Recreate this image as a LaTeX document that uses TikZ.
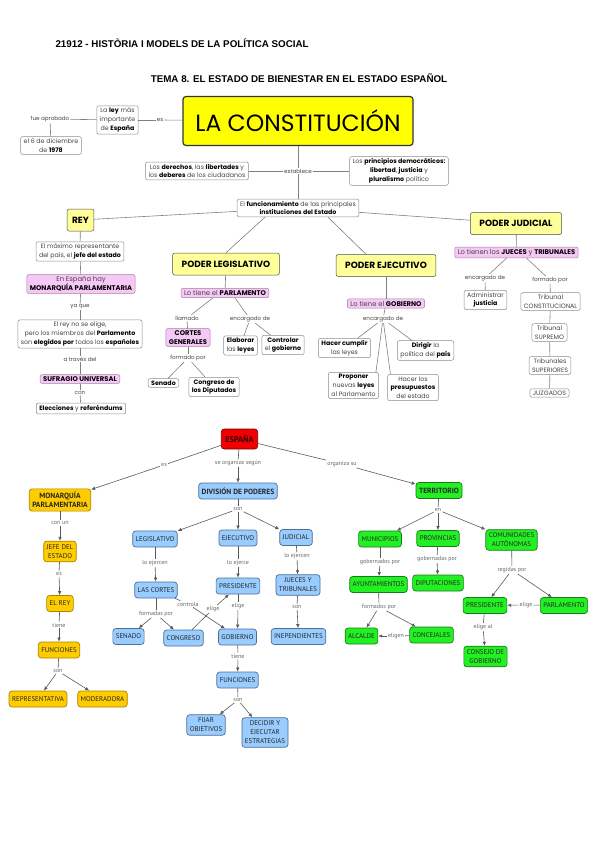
\documentclass[tikz,border=0pt]{standalone}
\usepackage{fontspec}
\setmainfont{Poppins}
\newfontfamily\mapfont{PT Sans}
\newfontfamily\headfont{Liberation Sans}
\usetikzlibrary{arrows.meta}
\definecolor{amarillo}{HTML}{FFFF00}
\definecolor{amarillot}{HTML}{FFFF99}
\definecolor{rosa}{HTML}{F6C8F6}
\definecolor{rosab}{HTML}{A57FA5}
\definecolor{naranja}{HTML}{FFCC00}
\definecolor{naranjab}{HTML}{A88200}
\definecolor{azul}{HTML}{99CCFF}
\definecolor{azulb}{HTML}{4F6F94}
\definecolor{verde}{HTML}{22F022}
\definecolor{verdeb}{HTML}{1A7A1A}
\definecolor{rojo}{HTML}{F00000}
\definecolor{rojob}{HTML}{7A0000}
\definecolor{rojotexto}{HTML}{3A0000}
\definecolor{gristexto}{HTML}{444444}
\newcommand{\hl}[1]{{\bfseries\color{black}#1}}
\tikzset{
  caja/.style={draw=black!45, rounded corners=2pt, fill=white, align=center, text=gristexto,
    inner xsep=3pt, inner ysep=2pt, line width=0.5pt, font=\fontsize{6.3}{8.8}\selectfont},
  cajaamar/.style={caja, fill=amarillot, draw=black!70, text=black, inner xsep=9pt,
    minimum height=22pt, font=\fontsize{9}{10}\selectfont\bfseries},
  cajarosa/.style={caja, fill=rosa, draw=rosab, font=\fontsize{6.8}{9}\selectfont},
  etiq/.style={fill=white, inner sep=1pt, text=gristexto, font=\fontsize{5.6}{6}\selectfont},
  linea/.style={draw=black!50, line width=0.6pt},
  nodo/.style={rounded corners=3pt, align=center, text=black!85, line width=0.7pt,
    inner xsep=3pt, minimum height=16pt, font=\mapfont\fontsize{6.9}{9}\selectfont},
  nodob/.style={font=\mapfont\fontsize{7.5}{9}\selectfont\bfseries},
  nar/.style={nodo, fill=naranja, draw=naranjab},
  azu/.style={nodo, fill=azul, draw=azulb},
  ver/.style={nodo, fill=verde, draw=verdeb},
  rel/.style={fill=white, inner sep=1pt, text=black!60, font=\mapfont\fontsize{6}{7}\selectfont},
  enlace/.style={draw=black!65, line width=0.6pt},
  flecha/.style={enlace, -{Latex[length=4pt,width=3.5pt]}}
}
\begin{document}
\begin{tikzpicture}[x=1pt,y=-1pt]
\useasboundingbox (0,0) rectangle (599,848);
\node[anchor=west, font=\headfont\fontsize{9.8}{11}\selectfont\bfseries] (cab) at (52,43) {21912 - HISTÒRIA I MODELS DE LA POLÍTICA SOCIAL};
\node[font=\headfont\fontsize{9.8}{11}\selectfont\bfseries] (tema) at (299,78) {TEMA 8. EL ESTADO DE BIENESTAR EN EL ESTADO ESPAÑOL};

\node[caja] (ley) at (117.5,120) {La \hl{ley} más\\importante\\de \hl{España}};
\node[etiq] (fue) at (50,119) {fue aprobado};
\node[caja] (fecha) at (51,145.5) {el 6 de diciembre\\de \hl{1978}};
\node[etiq] (es) at (160,120) {es};
\node[draw=black!80, fill=amarillo, rounded corners=3pt, line width=1.2pt, minimum width=230pt,
  minimum height=49pt, font=\fontsize{23.5}{26}\selectfont] (const) at (298,121) {LA CONSTITUCIÓN};
\node[etiq] (establece) at (298,171) {establece};
\node[caja] (derechos) at (197,171) {Los \hl{derechos}, las \hl{libertades} y\\los \hl{deberes} de los ciudadanos};
\node[caja] (principios) at (399,171) {Los \hl{principios democráticos:}\\\hl{libertad}, \hl{justicia} y\\\hl{pluralismo} político};
\node[caja] (func) at (298,208) {El \hl{funcionamiento} de las principales\\\hl{instituciones del Estado}};

\node[cajaamar, inner xsep=5pt] (rey) at (80.5,220) {REY};
\node[caja] (maximo) at (80,251.5) {El máximo representante\\del país, el \hl{jefe del estado}};
\node[cajarosa] (monarquia) at (81,284) {En España hay\\\hl{MONARQUÍA PARLAMENTARIA}};
\node[etiq] (yaque) at (80,307) {ya que};
\node[caja] (noelige) at (80,334) {El rey no se elige,\\pero los miembros del \hl{Parlamento}\\son \hl{elegidos por} todos los \hl{españoles}};
\node[etiq] (atraves) at (80,359) {a través del};
\node[cajarosa] (sufragio) at (80,379) {\hl{SUFRAGIO UNIVERSAL}};
\node[etiq] (con) at (80,392.5) {con};
\node[caja] (elecciones) at (81,408.5) {\hl{Elecciones} y \hl{referéndums}};

\node[cajaamar] (leg) at (226,264) {PODER LEGISLATIVO};
\node[cajarosa] (parl) at (225,293) {Lo tiene el \hl{PARLAMENTO}};
\node[etiq] (llamado) at (187,318) {llamado};
\node[etiq] (encleg) at (250,319) {encargado de};
\node[cajarosa] (cortes) at (188,337.5) {\hl{CORTES}\\\hl{GENERALES}};
\node[etiq] (formleg) at (188,358) {formado por};
\node[caja] (senado) at (163.5,383) {\hl{Senado}};
\node[caja] (congreso) at (214,387) {\hl{Congreso de}\\\hl{los Diputados}};
\node[caja] (elaborar) at (240.5,345.5) {\hl{Elaborar}\\las \hl{leyes}};
\node[caja] (controlar) at (283,345) {\hl{Controlar}\\el \hl{gobierno}};

\node[cajaamar] (ejec) at (386,265.5) {PODER EJECUTIVO};
\node[cajarosa] (gob) at (386,303.5) {Lo tiene el \hl{GOBIERNO}};
\node[etiq] (encejec) at (383,319) {encargado de};
\node[caja] (cumplir) at (344.5,348) {\hl{Hacer cumplir}\\las leyes};
\node[caja] (dirigir) at (425.5,350.5) {\hl{Dirigir} la\\política del \hl{país}};
\node[caja] (proponer) at (353.5,385.5) {\hl{Proponer}\\nuevas \hl{leyes}\\al Parlamento};
\node[caja] (presup) at (413,387.5) {Hacer los\\\hl{presupuestos}\\del estado};

\node[cajaamar] (jud) at (516,223.5) {PODER JUDICIAL};
\node[cajarosa] (jueces) at (516.5,252.5) {Lo tienen los \hl{JUECES} y \hl{TRIBUNALES}};
\node[etiq] (encjud) at (485,278) {encargado de};
\node[etiq] (formjud) at (550,280) {formado por};
\node[caja] (admin) at (485.5,300) {Administrar\\\hl{justicia}};
\node[caja] (tconst) at (550.5,301.5) {Tribunal\\CONSTITUCIONAL};
\node[caja] (tsup) at (549.5,332.5) {Tribunal\\SUPREMO};
\node[caja] (tsupe) at (550,365.5) {Tribunales\\SUPERIORES};
\node[caja] (juzg) at (549.5,393) {JUZGADOS};

\draw[linea] (fue) -- (ley);
\draw[linea] (fue) -- (fecha);
\draw[linea] (ley) -- (es);
\draw[linea] (es) -- (const);
\draw[linea] (const) -- (establece);
\draw[linea] (establece) -- (func);
\draw[linea] (derechos) -- (establece);
\draw[linea] (establece) -- (principios);
\draw[linea] (rey) -- (func);
\draw[linea] (func) -- (jud);
\draw[linea] ([xshift=-33pt]func.south) -- (leg.north);
\draw[linea] ([xshift=30pt]func.south) -- ([xshift=-20pt]ejec.north);
\draw[linea] (rey) -- (maximo);
\draw[linea] (maximo) -- (monarquia);
\draw[linea] (monarquia) -- (yaque);
\draw[linea] (yaque) -- (noelige);
\draw[linea] (noelige) -- (atraves);
\draw[linea] (atraves) -- (sufragio);
\draw[linea] (sufragio) -- (con);
\draw[linea] (con) -- (elecciones);
\draw[linea] (leg) -- (parl);
\draw[linea] ([xshift=-12pt]parl.south) -- (llamado);
\draw[linea] (llamado) -- (cortes);
\draw[linea] ([xshift=10pt]parl.south) -- (encleg);
\draw[linea] (encleg) -- (elaborar);
\draw[linea] (encleg) -- (controlar);
\draw[linea] (cortes) -- (formleg);
\draw[linea] (formleg) -- (senado);
\draw[linea] (formleg) -- (congreso);
\draw[linea] (ejec) -- (gob);
\draw[linea] (gob) -- (encejec);
\draw[linea] (encejec) -- (cumplir);
\draw[linea] (encejec) -- ([xshift=-3pt]proponer.north east);
\draw[linea] (encejec) -- ([xshift=3pt]presup.north west);
\draw[linea] (encejec) -- (dirigir);
\draw[linea] (jud) -- (jueces);
\draw[linea] ([xshift=-10pt]jueces.south) -- (encjud);
\draw[linea] (encjud) -- (admin);
\draw[linea] ([xshift=10pt]jueces.south) -- (formjud);
\draw[linea] (formjud) -- (tconst);
\draw[linea] (tconst) -- (tsup);
\draw[linea] (tsup) -- (tsupe);
\draw[linea] (tsupe) -- (juzg);

\node[nodo, fill=rojo, draw=rojob, text=rojotexto, inner xsep=4pt, minimum height=20pt,
  font=\mapfont\fontsize{8.3}{9}\selectfont\bfseries] (espana) at (239.5,439) {ESPAÑA};
\node[nar, nodob] (bmonarquia) at (60,500) {MONARQUÍA\\PARLAMENTARIA};
\node[azu, nodob] (division) at (238,491) {DIVISIÓN DE PODERES};
\node[ver, nodob] (territorio) at (439,490.5) {TERRITORIO};
\node[rel] (res) at (164,465) {es};
\node[rel] (rsegun) at (238,463) {se organiza según};
\node[rel] (rorg) at (342,464) {organiza su};

\node[rel] (rconun) at (60,523) {con un};
\node[nar] (jefe) at (60,551.5) {JEFE DEL\\ESTADO};
\node[rel] (res2) at (59,574) {es};
\node[nar] (elrey) at (60,603.5) {EL REY};
\node[rel] (rtiene) at (59,625) {tiene};
\node[nar] (funcn) at (59,650) {FUNCIONES};
\node[rel] (rson) at (58,671) {son};
\node[nar] (repr) at (38,699) {REPRESENTATIVA};
\node[nar] (moder) at (102.5,699) {MODERADORA};

\node[rel] (rson2) at (238,509) {son};
\node[azu] (blegis) at (155,539) {LEGISLATIVO};
\node[azu] (bejec) at (238,538) {EJECUTIVO};
\node[azu] (bjudic) at (296,537.5) {JUDICIAL};
\node[rel] (rejercen) at (155,563) {lo ejercen};
\node[azu] (lascortes) at (156,590) {LAS CORTES};
\node[rel] (rformadas) at (156,614) {formadas por};
\node[azu] (senado2) at (128.5,636.5) {SENADO};
\node[azu] (congreso2) at (183.5,638) {CONGRESO};
\node[rel] (rcontrola) at (188,604) {controla};
\node[rel] (relige) at (213,609) {elige};
\node[rel] (rejerce) at (238,563) {lo ejerce};
\node[azu] (presi) at (238,586) {PRESIDENTE};
\node[rel] (relige2) at (238,606) {elige};
\node[azu] (gobierno) at (237.5,637) {GOBIERNO};
\node[rel] (rtiene2) at (238,656) {tiene};
\node[azu] (funcb) at (237.5,680) {FUNCIONES};
\node[rel] (rson3) at (238,700) {son};
\node[azu] (fijar) at (206,725) {FIJAR\\OBJETIVOS};
\node[azu] (decidir) at (265,732.5) {DECIDIR Y\\EJECUTAR\\ESTRATEGIAS};
\node[rel] (rejercen2) at (297,556) {lo ejercen};
\node[azu] (juecesb) at (298,585) {JUECES Y\\TRIBUNALES};
\node[rel] (rson4) at (297,607) {son};
\node[azu] (inep) at (298.5,636.5) {INEPENDIENTES};

\node[rel] (ren) at (438,510) {en};
\node[ver] (muni) at (380,539) {MUNICIPIOS};
\node[ver] (prov) at (438,538.5) {PROVINCIAS};
\node[ver] (ccaa) at (511.5,540) {COMUNIDADES\\AUTÓNOMAS};
\node[rel] (rgobdos) at (380,562) {gobernados por};
\node[ver] (ayunt) at (378.5,584.5) {AYUNTAMIENTOS};
\node[rel] (rgobdas) at (437,559) {gobernadas por};
\node[ver] (dipu) at (438,583) {DIPUTACIONES};
\node[rel] (rformados) at (379,607) {formados por};
\node[ver] (alcalde) at (361.5,636) {ALCALDE};
\node[ver] (concej) at (431.5,635) {CONCEJALES};
\node[rel] (religen) at (396,636) {eligen};
\node[rel] (rregidas) at (512,570) {regidas por};
\node[ver] (presc) at (485,605.5) {PRESIDENTE};
\node[ver] (parlc) at (564,605.5) {PARLAMENTO};
\node[rel] (relige3) at (526,605) {elige};
\node[rel] (religeal) at (483,627) {elige al};
\node[ver] (consejo) at (485.5,656.5) {CONSEJO DE\\GOBIERNO};

\draw[enlace] (espana) -- (res);
\draw[flecha] (res) -- (bmonarquia);
\draw[enlace] (espana) -- (rsegun);
\draw[flecha] (rsegun) -- (division);
\draw[enlace] (espana) -- (rorg);
\draw[flecha] (rorg) -- (territorio);
\draw[enlace] (bmonarquia) -- (rconun);
\draw[flecha] (rconun) -- (jefe);
\draw[enlace] (jefe) -- (res2);
\draw[flecha] (res2) -- (elrey);
\draw[enlace] (elrey) -- (rtiene);
\draw[flecha] (rtiene) -- (funcn);
\draw[enlace] (funcn) -- (rson);
\draw[flecha] (rson) -- (repr);
\draw[flecha] (rson) -- (moder);
\draw[enlace] (division) -- (rson2);
\draw[flecha] (rson2) -- (blegis);
\draw[flecha] (rson2) -- (bejec);
\draw[flecha] (rson2) -- (bjudic);
\draw[enlace] (blegis) -- (rejercen);
\draw[flecha] (rejercen) -- (lascortes);
\draw[enlace] (lascortes) -- (rformadas);
\draw[flecha] (rformadas) -- (senado2);
\draw[flecha] (rformadas) -- (congreso2);
\draw[enlace] (lascortes) -- (rcontrola);
\draw[flecha] (rcontrola) -- (gobierno);
\draw[enlace] (congreso2) -- (relige);
\draw[flecha] (relige) -- (presi);
\draw[enlace] (bejec) -- (rejerce);
\draw[flecha] (rejerce) -- (presi);
\draw[enlace] (presi) -- (relige2);
\draw[flecha] (relige2) -- (gobierno);
\draw[enlace] (gobierno) -- (rtiene2);
\draw[flecha] (rtiene2) -- (funcb);
\draw[enlace] (funcb) -- (rson3);
\draw[flecha] (rson3) -- (fijar);
\draw[flecha] (rson3) -- (decidir);
\draw[enlace] (bjudic) -- (rejercen2);
\draw[flecha] (rejercen2) -- (juecesb);
\draw[enlace] (juecesb) -- (rson4);
\draw[flecha] (rson4) -- (inep);
\draw[enlace] (territorio) -- (ren);
\draw[flecha] (ren) -- (muni);
\draw[flecha] (ren) -- (prov);
\draw[flecha] (ren) -- (ccaa);
\draw[enlace] (muni) -- (rgobdos);
\draw[flecha] (rgobdos) -- (ayunt);
\draw[enlace] (prov) -- (rgobdas);
\draw[flecha] (rgobdas) -- (dipu);
\draw[enlace] (ayunt) -- (rformados);
\draw[flecha] (rformados) -- (alcalde);
\draw[flecha] (rformados) -- (concej);
\draw[enlace] (concej) -- (religen);
\draw[flecha] (religen) -- (alcalde);
\draw[enlace] (ccaa) -- (rregidas);
\draw[flecha] (rregidas) -- (presc);
\draw[flecha] (rregidas) -- (parlc);
\draw[enlace] (parlc) -- (relige3);
\draw[flecha] (relige3) -- (presc);
\draw[enlace] (presc) -- (religeal);
\draw[flecha] (religeal) -- (consejo);
\end{tikzpicture}
\end{document}
